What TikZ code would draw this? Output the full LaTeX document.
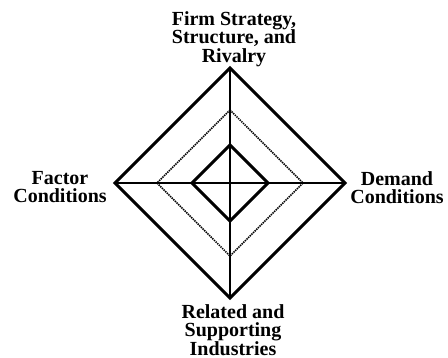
\documentclass[tikz,border=0pt]{standalone}
\usepackage{fontspec}
\setmainfont{Liberation Serif}
\begin{document}
\begin{tikzpicture}[x=1pt,y=1pt,
  lbl/.style={font=\bfseries\fontsize{20}{18.5}\selectfont, align=center, inner sep=0pt, anchor=north},
  thickline/.style={line width=3pt, line join=miter},
  axis/.style={line width=1.5pt},
  dotline/.style={line width=1.6pt, dash pattern=on 1.4pt off 0.9pt}]
\useasboundingbox (0,0) rectangle (448,358);
% centre and vertices
\coordinate (C) at (230,175);
\coordinate (oT) at (230,290);
\coordinate (oB) at (230,60);
\coordinate (oL) at (115,175);
\coordinate (oR) at (345,175);
\coordinate (mT) at (230,248);
\coordinate (mB) at (230,102);
\coordinate (mL) at (157,175);
\coordinate (mR) at (303,175);
\coordinate (iT) at (230,213);
\coordinate (iB) at (230,137);
\coordinate (iL) at (192,175);
\coordinate (iR) at (268,175);
% axes
\draw[axis] (oT) -- (oB);
\draw[axis] (oL) -- (oR);
% diamonds
\draw[thickline] (oT) -- (oR) -- (oB) -- (oL) -- cycle;
\draw[dotline] (mT) -- (mR) -- (mB) -- (mL) -- cycle;
\draw[thickline] (iT) -- (iR) -- (iB) -- (iL) -- cycle;
% labels
\node[lbl] (top) at (234,347) {Firm Strategy,\\Structure, and\\Rivalry};
\node[lbl] (left) at (60,187) {Factor\\Conditions};
\node[lbl] (right) at (397,187) {Demand\\Conditions};
\node[lbl] (bottom) at (233,54) {Related and\\Supporting\\Industries};
\end{tikzpicture}
\end{document}
